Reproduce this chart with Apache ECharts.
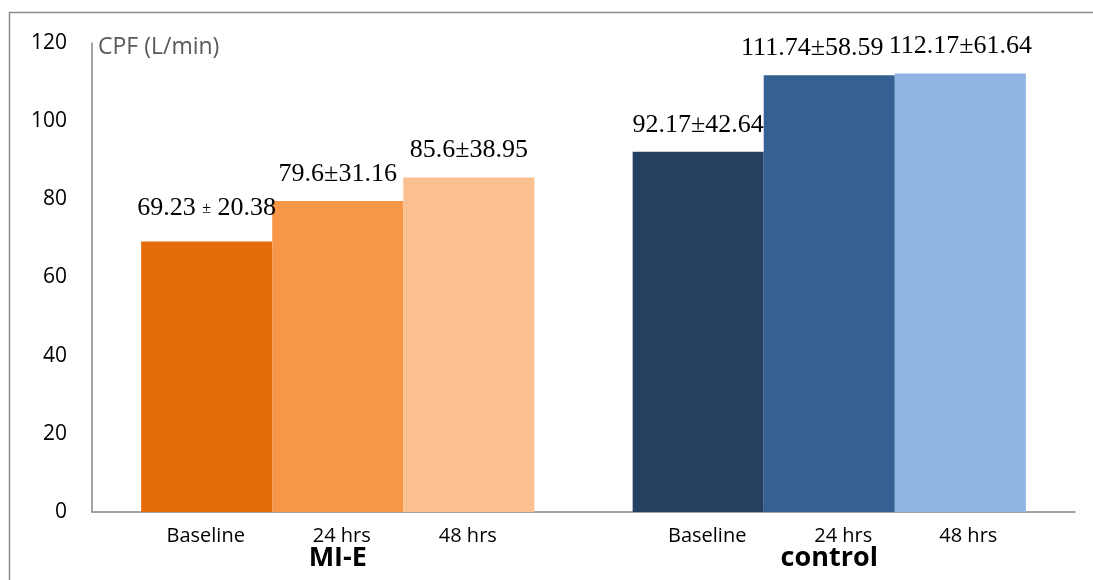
<!DOCTYPE html>
<html>
<head>
<meta charset="utf-8">
<script src="https://cdn.jsdelivr.net/npm/echarts@6/dist/echarts.min.js"></script>
<style>
html,body{margin:0;padding:0;background:#fff;}
#chart{width:1093px;height:580px;}
</style>
</head>
<body>
<div id="chart"></div>
<script>
// ---- data ----
const groups = ['MI-E', 'control'];
const timepoints = ['Baseline', '24 hrs', '48 hrs'];
const means = {            // per timepoint: [MI-E, control]
  'Baseline': [69.23, 92.17],
  '24 hrs':   [79.6, 111.74],
  '48 hrs':   [85.6, 112.17]
};
const sds = {
  'Baseline': [20.38, 42.64],
  '24 hrs':   [31.16, 58.59],
  '48 hrs':   [38.95, 61.64]
};
const yTicks = { min: 0, max: 120, interval: 20 };

// ---- styles ----
const colors = {
  'Baseline': ['#E46C0A', '#254061'],
  '24 hrs':   ['#F79646', '#376092'],
  '48 hrs':   ['#FAC090', '#8EB4E3']
};
// small label nudges to mimic the original text boxes
const valueLabelNudge = {
  'Baseline': [[0, -6], [0, 0]],
  '24 hrs':   [[0, 0], [-17, 0]],
  '48 hrs':   [[0, 0], [0, 0]]
};
const subLabelNudge = {
  'Baseline': [[-1, 0], [9, 0]],
  '24 hrs':   [[4, 0], [14, 0]],
  '48 hrs':   [[-1, 0], [8, 0]]
};

const sans = '"Open Sans", "Noto Sans", sans-serif';
const serif = '"Liberation Serif", "DejaVu Serif", serif';

const mainSeries = timepoints.map((tp, ti) => ({
  name: tp,
  type: 'bar',
  xAxisIndex: 0,
  barGap: '0%',
  barCategoryGap: '20%',
  z: 3,
  data: groups.map((g, gi) => {
    const small = (ti === 0 && gi === 0);
    return {
      value: means[tp][gi],
      itemStyle: { color: colors[tp][gi] },
      label: {
        offset: valueLabelNudge[tp][gi],
        formatter: small
          ? '{a|' + means[tp][gi] + ' }{b|±}{a| ' + sds[tp][gi] + '}'
          : means[tp][gi] + '±' + sds[tp][gi]
      }
    };
  }),
  label: {
    show: true,
    position: 'top',
    distance: 14,
    fontFamily: serif,
    fontSize: 26,
    color: '#000',
    rich: {
      a: { fontFamily: serif, fontSize: 26, color: '#000' },
      b: { fontFamily: serif, fontSize: 16, color: '#000' }
    }
  }
}));

const subSeries = timepoints.map((tp, ti) => ({
  name: tp + ' ',
  type: 'bar',
  xAxisIndex: 1,
  barGap: '0%',
  barCategoryGap: '20%',
  silent: true,
  z: 1,
  itemStyle: { color: 'rgba(0,0,0,0)' },
  data: groups.map((g, gi) => ({
    value: means[tp][gi],
    label: { offset: subLabelNudge[tp][gi] }
  })),
  label: {
    show: true,
    position: 'bottom',
    distance: 14,
    formatter: tp,
    fontFamily: sans,
    fontSize: 20,
    color: '#000'
  }
}));

const chart = echarts.init(document.getElementById('chart'), null, { renderer: 'canvas' });
chart.setOption({
  animation: false,
  backgroundColor: '#fff',
  grid: { left: 92, right: 18, top: 43, bottom: 68, containLabel: false },
  xAxis: [
    {
      type: 'category',
      data: groups,
      axisLine: { show: true, lineStyle: { color: '#868686', width: 1.5 } },
      axisTick: { show: false },
      splitLine: { show: false },
      axisLabel: {
        margin: 33,
        fontFamily: sans,
        fontSize: 27,
        fontWeight: 'bold',
        color: '#000'
      }
    },
    {
      type: 'category',
      data: groups,
      show: false,
      position: 'bottom'
    }
  ],
  yAxis: {
    type: 'value',
    min: yTicks.min,
    max: yTicks.max,
    interval: yTicks.interval,
    name: 'CPF (L/min)',
    nameLocation: 'end',
    nameGap: -4,
    nameTextStyle: {
      align: 'left',
      verticalAlign: 'middle',
      padding: [0, 0, 0, 6],
      fontFamily: sans,
      fontSize: 23,
      color: '#595959'
    },
    axisLine: { show: true, lineStyle: { color: '#868686', width: 1.5 } },
    axisTick: { show: false },
    splitLine: { show: false },
    axisLabel: {
      margin: 25,
      fontFamily: sans,
      fontSize: 21,
      color: '#000'
    }
  },
  graphic: [
    {
      type: 'polyline',
      silent: true,
      shape: { points: [[9.5, 700], [9.5, 12.5], [1200, 12.5]] },
      style: { fill: 'none', stroke: '#8c8c8c', lineWidth: 1.5 },
      z: 100
    }
  ],
  series: mainSeries.concat(subSeries)
});
</script>
</body>
</html>
